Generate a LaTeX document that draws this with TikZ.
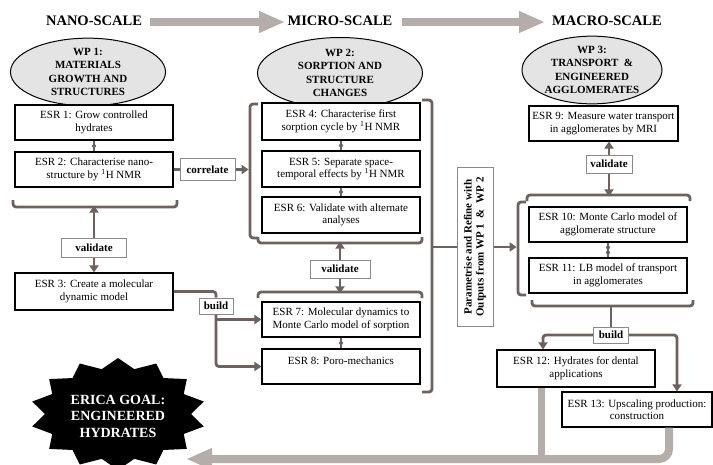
\documentclass[tikz,border=0pt]{standalone}
\usepackage{fontspec}
\setmainfont{Liberation Serif}
\usetikzlibrary{shapes.geometric,arrows.meta}
\definecolor{dkg}{HTML}{6E625E}
\definecolor{ltg}{HTML}{B5ADA9}
\definecolor{ellf}{HTML}{E4E4E4}
\definecolor{lblb}{HTML}{8A8A8A}
\begin{document}
\begin{tikzpicture}[x=1pt,y=-1pt,
  esr/.style={draw=black, line width=1.1pt, fill=white, minimum width=158pt, minimum height=35pt, align=center, inner sep=1pt, font=\fontsize{11}{12.5}\selectfont},
  lbl/.style={draw=lblb, line width=1pt, fill=white, inner xsep=3pt, inner ysep=1pt, minimum height=18pt, font=\bfseries\fontsize{11}{12.5}\selectfont},
  wp/.style={ellipse, draw=black, line width=1pt, fill=ellf, align=center, inner sep=0pt, font=\bfseries\fontsize{11}{13.5}\selectfont},
  brk/.style={draw=dkg, line width=2.8pt, rounded corners=3pt},
  arr/.style={brk, -{Triangle[length=7pt,width=9pt]}},
  big/.style={draw=ltg, line width=8pt, -{Triangle[length=26pt,width=20pt]}},
  ttl/.style={inner sep=0pt, font=\bfseries\fontsize{14.5}{16}\selectfont},
  dia/.style={diamond, fill=dkg, inner sep=0pt, minimum width=5pt, minimum height=7pt},
  conn/.style={draw=dkg, line width=1.5pt}]
\useasboundingbox (0,0) rectangle (713,464);
\fill[white] (0,0) rectangle (713,464);

% titles and scale arrows
\node[ttl] (nano) at (94,21) {NANO-SCALE};
\node[ttl] (micro) at (340,21) {MICRO-SCALE};
\node[ttl] (macro) at (607,21) {MACRO-SCALE};
\coordinate (a1s) at (150,22);
\coordinate (a1e) at (285,22);
\coordinate (a2s) at (402,22);
\coordinate (a2e) at (545,22);
\draw[big] (a1s) -- (a1e);
\draw[big] (a2s) -- (a2e);

% work packages
\node[wp, minimum width=155pt, minimum height=67pt] (wp1) at (88,72) {WP 1:\\MATERIALS\\GROWTH AND\\STRUCTURES};
\node[wp, minimum width=165pt, minimum height=71pt] (wp2) at (340,73) {WP 2:\\SORPTION AND\\STRUCTURE\\CHANGES};
\node[wp, minimum width=140pt, minimum height=62pt] (wp3) at (592,70) {WP 3:\\TRANSPORT \ \&\\ENGINEERED\\AGGLOMERATES};

% ESR boxes
\node[esr] (e1) at (94,122.5) {ESR 1: Grow controlled\\hydrates};
\node[esr] (e2) at (94,169.5) {ESR 2: Characterise nano-\\structure by \textsuperscript{1}H NMR};
\node[esr, minimum height=37pt] (e3) at (94,291.5) {ESR 3: Create a molecular\\dynamic model};
\node[esr, minimum height=37pt] (e4) at (341,121.5) {ESR 4: Characterise first\\sorption cycle by \textsuperscript{1}H NMR};
\node[esr, minimum height=36pt] (e5) at (341,169) {ESR 5: Separate space-\\temporal effects by \textsuperscript{1}H NMR};
\node[esr, minimum height=36pt] (e6) at (341,215) {ESR 6: Validate with alternate\\analyses};
\node[esr] (e7) at (341,319.5) {ESR 7: Molecular dynamics to\\Monte Carlo model of sorption};
\node[esr] (e8) at (341,366.5) {ESR 8: Poro-mechanics\\\mbox{}};
\node[esr, minimum width=149pt] (e9) at (603.5,123.5) {ESR 9: Measure water transport\\in agglomerates by MRI};
\node[esr] (e10) at (608,224.5) {ESR 10: Monte Carlo model of\\agglomerate structure};
\node[esr] (e11) at (608,275.5) {ESR 11: LB model of transport\\in agglomerates};
\node[esr, minimum height=37pt] (e12) at (576,368.5) {ESR 12: Hydrates for dental\\applications};
\node[esr, minimum width=150pt] (e13) at (637,409.5) {ESR 13: Upscaling production:\\construction};

% diamond connectors
\draw[conn] (e1) -- (e2) node[dia, midway] (d12) {};
\draw[conn] (e4) -- (e5) node[dia, midway] (d45) {};
\draw[conn] (e5) -- (e6) node[dia, midway] (d56) {};
\draw[conn] (e7) -- (e8) node[dia, midway] (d78) {};
\draw[conn] (e10) -- (e11) node[dia, pos=0.33] (d1011a) {} node[dia, pos=0.67] (d1011b) {};

% WP1 bracket and validate
\coordinate (b1) at (94,207);
\draw[brk] (13,200) -- (13,207) -- (177,207) -- (177,200);
\node[lbl, minimum width=65pt, minimum height=19pt] (v1) at (94,247.5) {validate};
\draw[arr] (v1.north) -- ([yshift=1.4pt]b1);
\draw[arr] (v1.south) -- (v1.south |- e3.north);

% correlate
\coordinate (b2l) at (250,169.5);
\node[lbl, minimum width=55pt, minimum height=22pt] (corr) at (207.5,169.5) {correlate};
\draw[brk] (e2.east) -- (corr.west);
\draw[arr] (corr.east) -- ([xshift=-1.4pt]b2l);

% WP2 brackets
\draw[brk] (258,104) -- (250,104) -- (250,238) -- (258,238);
\draw[brk] (258,237) -- (258,243) -- (422,243) -- (422,237);
\draw[brk] (258,298) -- (258,292) -- (422,292) -- (422,298);
\draw[brk] (422,100) -- (432,100) -- (432,392) -- (422,392);
\coordinate (b2a) at (340,243);
\coordinate (b2b) at (340,292);
\node[lbl, minimum width=60pt] (v2) at (340,269) {validate};
\draw[arr] (v2.north) -- ([yshift=1.4pt]b2a);
\draw[arr] (v2.south) -- ([yshift=-1.4pt]b2b);

% build from ESR3
\node[lbl, minimum width=34pt, minimum height=16pt] (bld1) at (216,306) {build};
\draw[brk] (e3.east) -| (bld1.north);
\draw[arr] (bld1.south) |- (e8.west);
\draw[arr] (bld1.south |- e7.west) -- (e7.west);

% parametrise
\coordinate (rb) at (432,247);
\coordinate (b3l) at (518,247);
\node[lbl, rotate=90, minimum width=159pt, minimum height=36pt, align=center, inner sep=1pt, font=\bfseries\fontsize{11}{12}\selectfont] (param) at (475,247) {Parametrise and Refine with\\Outputs from WP 1 \ \& \ WP 2};
\draw[brk] (rb) -- (param);
\draw[arr] (param) -- ([xshift=-1.4pt]b3l);

% WP3 brackets
\draw[brk] (526,202) -- (518,202) -- (518,295) -- (526,295);
\draw[brk] (527,201) -- (527,195) -- (690,195) -- (690,201);
\draw[brk] (532,300) -- (532,306) -- (693,306) -- (693,300);
\coordinate (b3t) at (609,195);
\coordinate (b3b) at (611,306);
\node[lbl, minimum width=46pt] (v3) at (609,164) {validate};
\draw[arr] (v3.north) -- (v3.north |- e9.south);
\draw[arr] (v3.south) -- ([yshift=-1.4pt]b3t);

% build WP3
\node[lbl, minimum width=35pt, minimum height=16pt] (bld3) at (611,335) {build};
\draw[brk] (b3b) -- (bld3.north);
\draw[arr] (bld3.west) -| ([xshift=-33pt]e12.north);
\draw[arr] (bld3.east) -| ([xshift=40pt]e13.north);

% goal star
\fill[black] plot[samples at={0,...,27}, variable=\k]
  ({118+ifthenelse(mod(\k,2)==0,88,73)*cos(\k*360/28+90)},
   {414+ifthenelse(mod(\k,2)==0,56,46)*sin(\k*360/28+90)}) -- cycle;
\node[white, align=center, font=\bfseries\fontsize{14}{16.5}\selectfont] (goal) at (118,416) {ERICA GOAL:\\ENGINEERED\\HYDRATES};

% bottom return arrow
\coordinate (gtip) at (186,459);
\draw[draw=ltg, line width=7pt] ([xshift=-35pt]e12.south) -- ([xshift=-35pt]e12.south |- gtip);
\draw[big, rounded corners=10pt] ([xshift=32pt]e13.south) |- (gtip);
\end{tikzpicture}
\end{document}
